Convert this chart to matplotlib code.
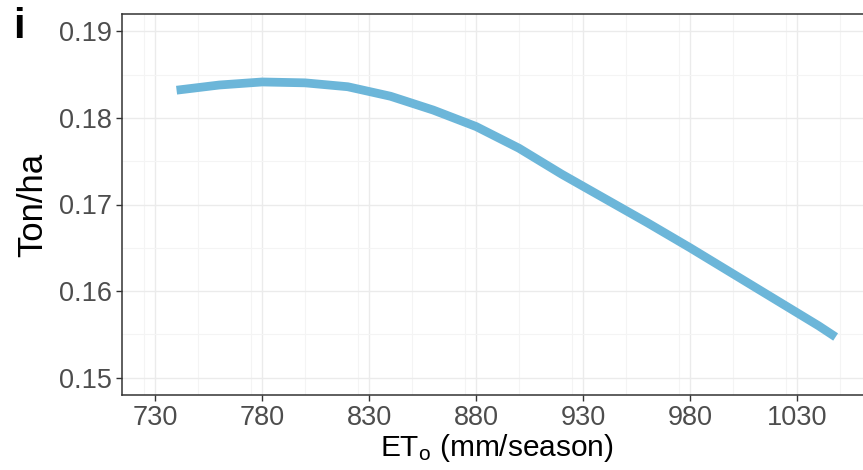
import matplotlib.pyplot as plt
from matplotlib.ticker import MultipleLocator

# values
eto = [740, 760, 780, 800, 820, 840, 860, 880, 900, 920, 940, 960, 980, 1000, 1020, 1040, 1048]
yield_ton = [0.1832, 0.1838, 0.18415, 0.18405, 0.1836, 0.1825, 0.1809, 0.1790, 0.1765,
             0.1735, 0.1707, 0.1679, 0.1650, 0.1620, 0.1590, 0.1560, 0.1547]
x_ticks = [730, 780, 830, 880, 930, 980, 1030]
y_ticks = [0.15, 0.16, 0.17, 0.18, 0.19]

plt.rcParams['font.family'] = ['Liberation Sans', 'DejaVu Sans']
plt.rcParams['mathtext.default'] = 'regular'

W, H = 863, 470
fig = plt.figure(figsize=(W / 100, H / 100), dpi=100)
# panel runs a little past the right edge of the picture (cropped like the reference)
left, right, top, bottom = 122, 872, 14, 395
ax = fig.add_axes([left / W, (H - bottom) / H, (right - left) / W, (bottom - top) / H])

ax.plot(eto, yield_ton, color='#6cb6d9', lw=6.3, solid_capstyle='butt',
        solid_joinstyle='round', zorder=3)

ax.set_xlim(714.5, 1065)
ax.set_ylim(0.148, 0.192)
ax.set_xticks(x_ticks)
ax.set_yticks(y_ticks)
ax.set_yticklabels([f'{v:.2f}' for v in y_ticks])
ax.xaxis.set_minor_locator(MultipleLocator(25))
ax.yaxis.set_minor_locator(MultipleLocator(0.005))

ax.grid(which='major', color='#ebebeb', lw=1.0, zorder=0)
ax.grid(which='minor', color='#f4f4f4', lw=0.8, zorder=0)
ax.set_axisbelow(True)

for s in ax.spines.values():
    s.set_color('#333333')
    s.set_linewidth(1.1)

ax.tick_params(which='major', length=4, width=1, color='#333333',
               labelsize=19.5, labelcolor='#4d4d4d', pad=3)
ax.tick_params(which='minor', length=0)

ax.set_xlabel(r'ET$_o$ (mm/season)', fontsize=21.5, color='black', labelpad=1)
ax.set_ylabel('Ton/ha', fontsize=25, color='black', labelpad=7)

fig.text(19 / W, 1 - 27 / H, 'i', fontsize=30, fontweight='bold', ha='center', va='center')

fig.savefig('out.png', dpi=100)
